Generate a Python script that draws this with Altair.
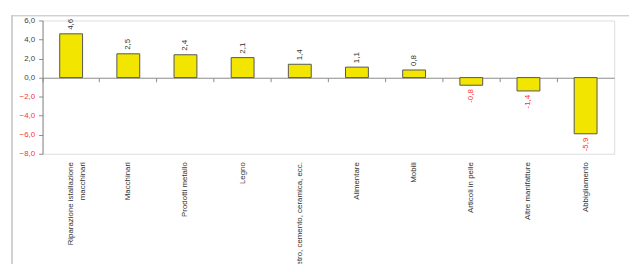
import altair as alt
import pandas as pd

categories = [
    "Riparazione istallazione\nmacchinari",
    "Macchinari",
    "Prodotti metallo",
    "Legno",
    "Vetro, cemento, ceramica, ecc.",
    "Alimentare",
    "Mobili",
    "Articoli in pelle",
    "Altre manifatture",
    "Abbigliamento",
]
values = [4.6, 2.5, 2.4, 2.1, 1.4, 1.1, 0.8, -0.8, -1.4, -5.9]
y_ticks = [6, 4, 2, 0, -2, -4, -6, -8]

df = pd.DataFrame({"cat": categories, "val": values})
df["lab"] = [f"{v:.1f}".replace(".", ",") for v in values]

FONT = "Liberation Sans"
YELLOW = "#f2e500"
RED = "#ff3030"
GREY = "#404040"

xscale = alt.Scale(paddingInner=0, paddingOuter=0)
yscale = alt.Scale(domain=[-8, 6], nice=False)

base = alt.Chart(df)

bars = base.mark_bar(width={"band": 0.4}, color=YELLOW, stroke="#555555", strokeWidth=1).encode(
    x=alt.X("cat:N", sort=categories, scale=xscale,
            axis=alt.Axis(orient="bottom", offset=-77, labels=False, title=None,
                          domain=True, domainColor="#8a8a8a", ticks=True, tickSize=4,
                          tickColor="#8a8a8a", bandPosition=0, grid=False)),
    y=alt.Y("val:Q", scale=yscale,
            axis=alt.Axis(values=y_ticks, title=None, grid=False,
                          labelOverlap=False, labelFlush=False,
                          labelExpr="replace(format(datum.value, '.1f'), '.', ',')",
                          labelFont=FONT, labelFontSize=8,
                          labelColor={"condition": {"test": "datum.value < 0", "value": RED}, "value": GREY},
                          domainColor="#8a8a8a", tickColor="#8a8a8a", tickSize=4, labelPadding=4)),
)

pos_text = base.transform_filter("datum.val >= 0").mark_text(
    angle=270, align="left", baseline="middle", font=FONT, fontSize=8, color="#333333"
).encode(
    x=alt.X("cat:N", sort=categories, scale=xscale,
            axis=alt.Axis(orient="bottom", domain=False, ticks=False, title=None,
                          labelAngle=270, labelAlign="right", labelBaseline="middle",
                          labelPadding=8, labelLimit=400, labelFont=FONT, labelFontSize=8,
                          labelColor="#333333", labelLineHeight=12,
                          labelExpr="split(datum.label, '\\n')")),
    y=alt.Y("val:Q", scale=yscale, axis=None),
    yOffset=alt.value(-4),
    text="lab:N",
)

neg_text = base.transform_filter("datum.val < 0").mark_text(
    angle=270, align="right", baseline="middle", font=FONT, fontSize=8, color=RED
).encode(
    x=alt.X("cat:N", sort=categories, scale=xscale, axis=None),
    y=alt.Y("val:Q", scale=yscale, axis=None),
    yOffset=alt.value(4),
    text="lab:N",
)

frame_top = alt.Chart(df).mark_rule(color="#d0d0d0", strokeWidth=1, clip=False).encode(
    x=alt.value(-31), x2=alt.value(594), y=alt.value(-5)
)
frame_left = alt.Chart(df).mark_rule(color="#d0d0d0", strokeWidth=1, clip=False).encode(
    x=alt.value(-31), y=alt.value(-5), y2=alt.value(300)
)

chart = alt.layer(frame_top, frame_left, bars, pos_text, neg_text).resolve_axis(
    x="independent", y="independent"
).properties(
    width=579, height=135,
    autosize=alt.AutoSizeParams(type="none"),
    padding={"left": 35, "top": 11, "right": 15, "bottom": 110},
).configure_view(stroke=None).configure(background="white")

chart.save("out.html", embed_options={"renderer": "svg", "actions": False})
